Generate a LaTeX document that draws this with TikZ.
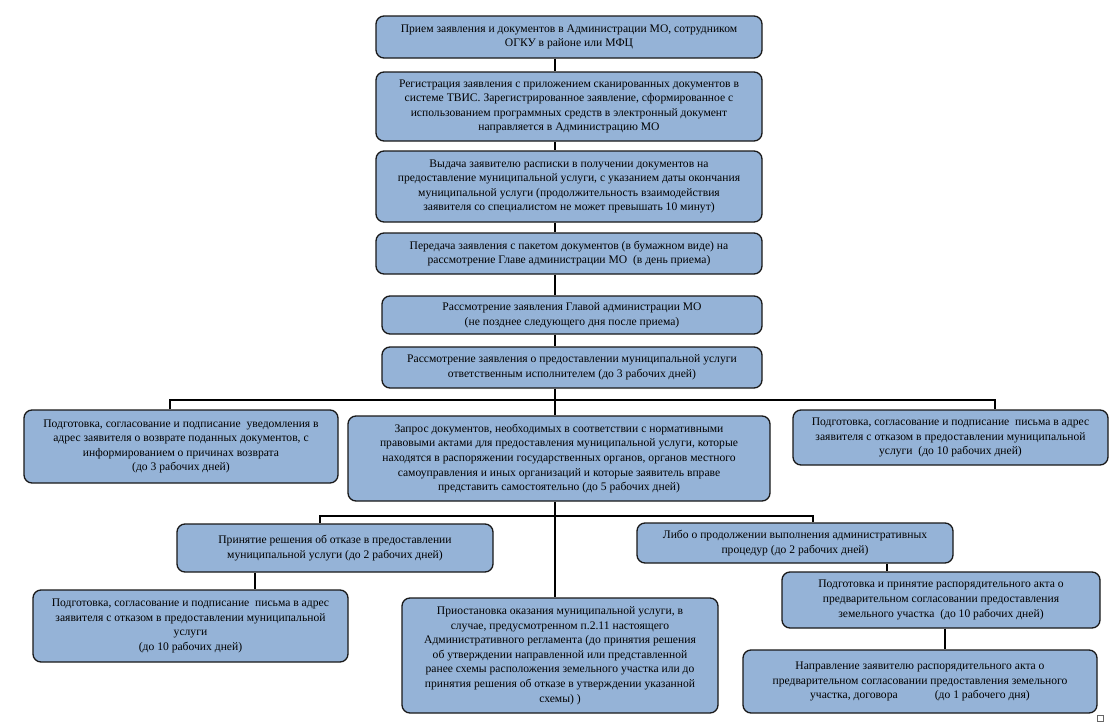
\documentclass[tikz,border=0pt]{standalone}
\usepackage{fontspec}
\setmainfont{Liberation Serif}
\begin{document}
\begin{tikzpicture}[x=1pt,y=-1pt,
  box/.style={draw=black!90, line width=1.3pt, fill=boxblue, rounded corners=8pt,
    inner sep=0pt, align=center, text=black, font=\fontsize{11.6}{14.6}\selectfont},
  conn/.style={draw=black, line width=1.9pt}]
\definecolor{boxblue}{RGB}{149,179,215}
\useasboundingbox (0,0) rectangle (1117,723);
\node[box, minimum width=386, minimum height=42] (n1) at (569,37)
  {Прием заявления и документов в Администрации МО, сотрудником\\ОГКУ в районе или МФЦ};
\node[box, minimum width=386, minimum height=69] (n2) at (569,106.5)
  {Регистрация заявления с приложением сканированных документов в\\системе ТВИС. Зарегистрированное заявление, сформированное с\\использованием программных средств в электронный документ\\направляется в Администрацию МО};
\node[box, minimum width=386, minimum height=71] (n3) at (569,186.5)
  {Выдача заявителю расписки в получении документов на\\предоставление муниципальной услуги, с указанием даты окончания\\муниципальной услуги (продолжительность взаимодействия\\заявителя со специалистом не может превышать 10 минут)};
\node[box, minimum width=386, minimum height=41] (n4) at (569,253.5)
  {Передача заявления с пакетом документов (в бумажном виде) на\\рассмотрение Главе администрации МО\ \ (в день приема)};
\node[box, minimum width=380, minimum height=38] (n5) at (572,315)
  {Рассмотрение заявления Главой администрации МО\\(не позднее следующего дня после приема)};
\node[box, minimum width=380, minimum height=41] (n6) at (572,367.5)
  {Рассмотрение заявления о предоставлении муниципальной услуги\\ответственным исполнителем (до 3 рабочих дней)};
\node[box, minimum width=314, minimum height=73] (n7) at (181,446.5)
  {Подготовка, согласование и подписание\ \ уведомления в\\адрес заявителя о возврате поданных документов, с\\информированием о причинах возврата\\(до 3 рабочих дней)};
\node[box, minimum width=422, minimum height=85] (n8) at (559,458.5)
  {Запрос документов, необходимых в соответствии с нормативными\\правовыми актами для предоставления муниципальной услуги, которые\\находятся в распоряжении государственных органов, органов местного\\самоуправления и иных организаций\ и которые заявитель вправе\\представить самостоятельно (до 5 рабочих дней)};
\node[box, minimum width=315, minimum height=55] (n9) at (950.5,437.5)
  {Подготовка, согласование и подписание\ \ письма в адрес\\заявителя с отказом в предоставлении муниципальной\\услуги\ \ (до 10 рабочих дней)};
\node[box, minimum width=316, minimum height=48] (n10) at (335,548)
  {Принятие решения об отказе в предоставлении\\муниципальной услуги (до 2 рабочих дней)};
\node[box, minimum width=316, minimum height=40] (n11) at (795,543)
  {Либо о продолжении выполнения административных\\процедур (до 2 рабочих дней)};
\node[box, minimum width=315, minimum height=72] (n12) at (190.5,626)
  {Подготовка, согласование и подписание\ \ письма в адрес\\заявителя с отказом в предоставлении муниципальной\\услуги\\(до 10 рабочих дней)};
\node[box, minimum width=316, minimum height=115] (n13) at (560,655.5)
  {Приостановка оказания муниципальной услуги, в\\случае, предусмотренном п.2.11 настоящего\\Административного регламента (до принятия решения\\об утверждении направленной или представленной\\ранее схемы расположения земельного участка или до\\принятия решения об отказе в утверждении указанной\\схемы) )};
\node[box, minimum width=318, minimum height=56] (n14) at (941,600)
  {Подготовка и принятие распорядительного акта о\\предварительном согласовании предоставления\\земельного участка\ \ (до 10 рабочих дней)};
\node[box, minimum width=354, minimum height=63] (n15) at (920,681.5)
  {Направление заявителю распорядительного акта о\\предварительном согласовании предоставления\ земельного\\участка, договора\hspace{3.2em}(до 1 рабочего дня)};
% guide coordinates
\coordinate (vx) at (555,0);
\coordinate (busL) at (170,400);
\coordinate (busM) at (555,400);
\coordinate (busR) at (995,400);
\coordinate (bus2L) at (320,516);
\coordinate (bus2M) at (555,516);
\coordinate (bus2R) at (813,516);
\coordinate (v12) at (255,0);
\coordinate (v14) at (887,0);
\coordinate (v15) at (945,0);
% connectors
\draw[conn] (n1.south -| vx) -- (n2.north -| vx);
\draw[conn] (n2.south -| vx) -- (n3.north -| vx);
\draw[conn] (n3.south -| vx) -- (n4.north -| vx);
\draw[conn] (n4.south -| vx) -- (n5.north -| vx);
\draw[conn] (n5.south -| vx) -- (n6.north -| vx);
\draw[conn] (n6.south -| vx) -- (busM);
\draw[conn] (n7.north -| busL) -- (busL) -- (busR) -- (n9.north -| busR);
\draw[conn] (busM) -- (n8.north -| busM);
\draw[conn] (n8.south -| vx) -- (n13.north -| vx);
\draw[conn] (n10.north -| bus2L) -- (bus2L) -- (bus2R) -- (n11.north -| bus2R);
\draw[conn] (n10.south -| v12) -- (n12.north -| v12);
\draw[conn] (n11.south -| v14) -- (n14.north -| v14);
\draw[conn] (n14.south -| v15) -- (n15.north -| v15);
\draw[black!60, line width=0.6pt] (1097,715) rectangle (1103,721);
\end{tikzpicture}
\end{document}
